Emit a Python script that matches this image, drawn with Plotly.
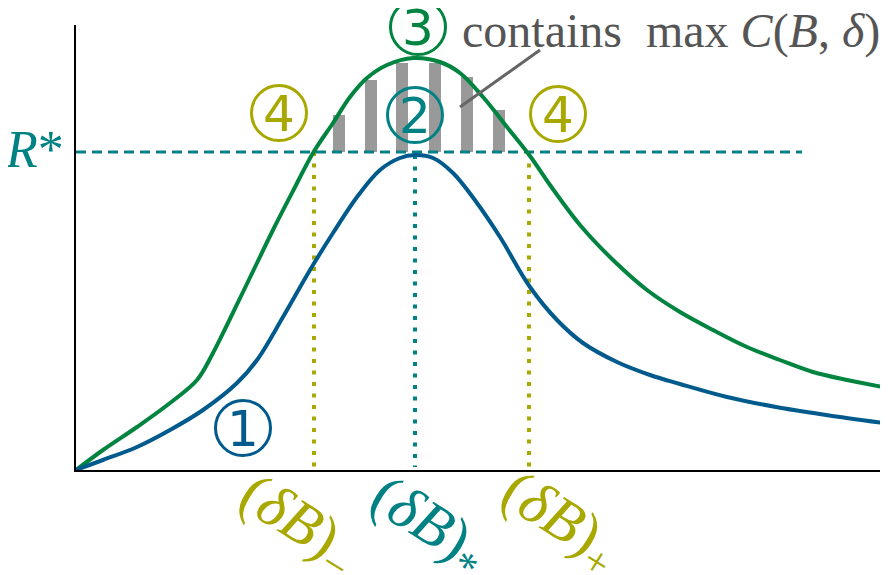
import plotly.graph_objects as go

# curve samples (x along the dB axis, y in capacity units)
green_x = [0, 0.27, 0.61, 0.94, 1.21, 1.37, 1.51, 1.67, 1.81, 1.97, 2.17, 2.37, 2.57, 2.74, 2.91,
           3.11, 3.37, 3.64, 3.84, 4.07, 4.31, 4.54, 4.74, 5.04, 5.37, 5.71, 6.04, 6.37, 6.71,
           7.04, 7.37, 7.71, 8.07]
green_y = [0, 0.20, 0.43, 0.67, 0.90, 1.17, 1.45, 1.78, 2.07, 2.40, 2.79, 3.17, 3.47, 3.73, 3.92,
           4.05, 4.12, 4.08, 3.97, 3.73, 3.43, 3.14, 2.85, 2.45, 2.10, 1.80, 1.58, 1.40, 1.23,
           1.10, 0.98, 0.90, 0.83]

blue_x = [0, 0.27, 0.61, 0.94, 1.27, 1.61, 1.81, 2.07, 2.34, 2.57, 2.81, 3.04, 3.24, 3.39, 3.57,
          3.77, 4.01, 4.24, 4.54, 4.81, 5.07, 5.41, 5.74, 6.04, 6.51, 7.0, 7.5, 8.07]
blue_y = [0, 0.10, 0.23, 0.40, 0.60, 0.87, 1.10, 1.53, 2.00, 2.37, 2.73, 3.00, 3.12, 3.15, 3.12,
          2.97, 2.67, 2.33, 1.83, 1.50, 1.27, 1.08, 0.95, 0.86, 0.73, 0.63, 0.55, 0.47]

r_star = 3.18
r_star_end = 7.26
db_minus, db_star, db_plus = 2.38, 3.39, 4.53

stripe_x = [2.63, 2.95, 3.26, 3.59, 3.91, 4.23]
stripe_top = [3.55, 3.90, 4.07, 4.07, 3.93, 3.60]

marks = ["1", "2", "3", "4", "4"]
mark_x = [1.67, 3.39, 3.42, 2.03, 4.82]
mark_y = [0.42, 3.55, 4.43, 3.57, 3.56]

GREEN = "#00843f"
BLUE = "#005a8b"
TEAL = "#008284"
OLIVE = "#a8a800"
GRAY = "#999999"
TXT = "#555555"
mark_col = [BLUE, TEAL, GREEN, OLIVE, OLIVE]

fig = go.Figure()

fig.add_trace(go.Bar(x=stripe_x, y=[t - r_star for t in stripe_top], base=r_star, width=0.12,
                     marker=dict(color=GRAY, line=dict(width=0)), hoverinfo="skip"))

# dotted verticals
for xv, ytop, col in [(db_minus, r_star, OLIVE), (db_plus, r_star, OLIVE), (db_star, 3.15, TEAL)]:
    fig.add_trace(go.Scatter(x=[xv, xv], y=[ytop, 0.03], mode="lines",
                             line=dict(color=col, width=4, dash="4px,7.5px")))

fig.add_trace(go.Scatter(x=[0, r_star_end], y=[r_star, r_star], mode="lines",
                         line=dict(color=TEAL, width=3, dash="10px,6px")))

fig.add_trace(go.Scatter(x=green_x, y=green_y, mode="lines",
                         line=dict(color=GREEN, width=4, shape="spline", smoothing=1.0)))
fig.add_trace(go.Scatter(x=blue_x, y=blue_y, mode="lines",
                         line=dict(color=BLUE, width=4, shape="spline", smoothing=1.0)))

# leader line
fig.add_trace(go.Scatter(x=[3.84, 4.64], y=[3.63, 4.20], mode="lines",
                         line=dict(color="#666666", width=3)))

# circled step numbers
fig.add_trace(go.Scatter(x=mark_x, y=mark_y, mode="markers", cliponaxis=False,
                         marker=dict(symbol="circle-open", size=55,
                                     line=dict(color=mark_col, width=3), color=mark_col)))
for t, xx, yy, col in zip(marks, mark_x, mark_y, mark_col):
    fig.add_annotation(x=xx, y=yy, text=t, showarrow=False, xanchor="center", yanchor="middle",
                       yshift=-1, font=dict(family="DejaVu Sans", size=50, color=col))

serif = "Liberation Serif, DejaVu Serif, serif"
fig.add_annotation(x=3.84, y=4.39, text="contains  max <i>C</i>(<i>B</i>, <i>δ</i>)", showarrow=False,
                   xanchor="left", yanchor="middle", font=dict(family=serif, size=48, color=TXT))
fig.add_annotation(xref="paper", yref="paper", x=-0.012, y=0.72, text="<i>R</i>*", showarrow=False,
                   xanchor="right", yanchor="middle", font=dict(family=serif, size=52, color=TEAL))

for txt, xx, yy, col in [("(<i>δB</i>)<sub>−</sub>", 0.275, -0.124, OLIVE),
                         ("(<i>δB</i>)<sub>*</sub>", 0.436, -0.128, TEAL),
                         ("(<i>δB</i>)<sub>+</sub>", 0.600, -0.117, OLIVE)]:
    fig.add_annotation(xref="paper", yref="paper", x=xx, y=yy, text=txt, showarrow=False, textangle=32,
                       xanchor="center", yanchor="middle", font=dict(family=serif, size=60, color=col))

axis = dict(showline=True, linecolor="black", linewidth=2, showgrid=False, zeroline=False,
            showticklabels=False, ticks="", fixedrange=True)
fig.update_layout(width=888, height=575, margin=dict(l=68, r=13, t=17, b=113),
                  plot_bgcolor="white", paper_bgcolor="white", showlegend=False,
                  xaxis=dict(axis, range=[0, 8.07]), yaxis=dict(axis, range=[0, 4.45]))

fig.write_html("out.html")
